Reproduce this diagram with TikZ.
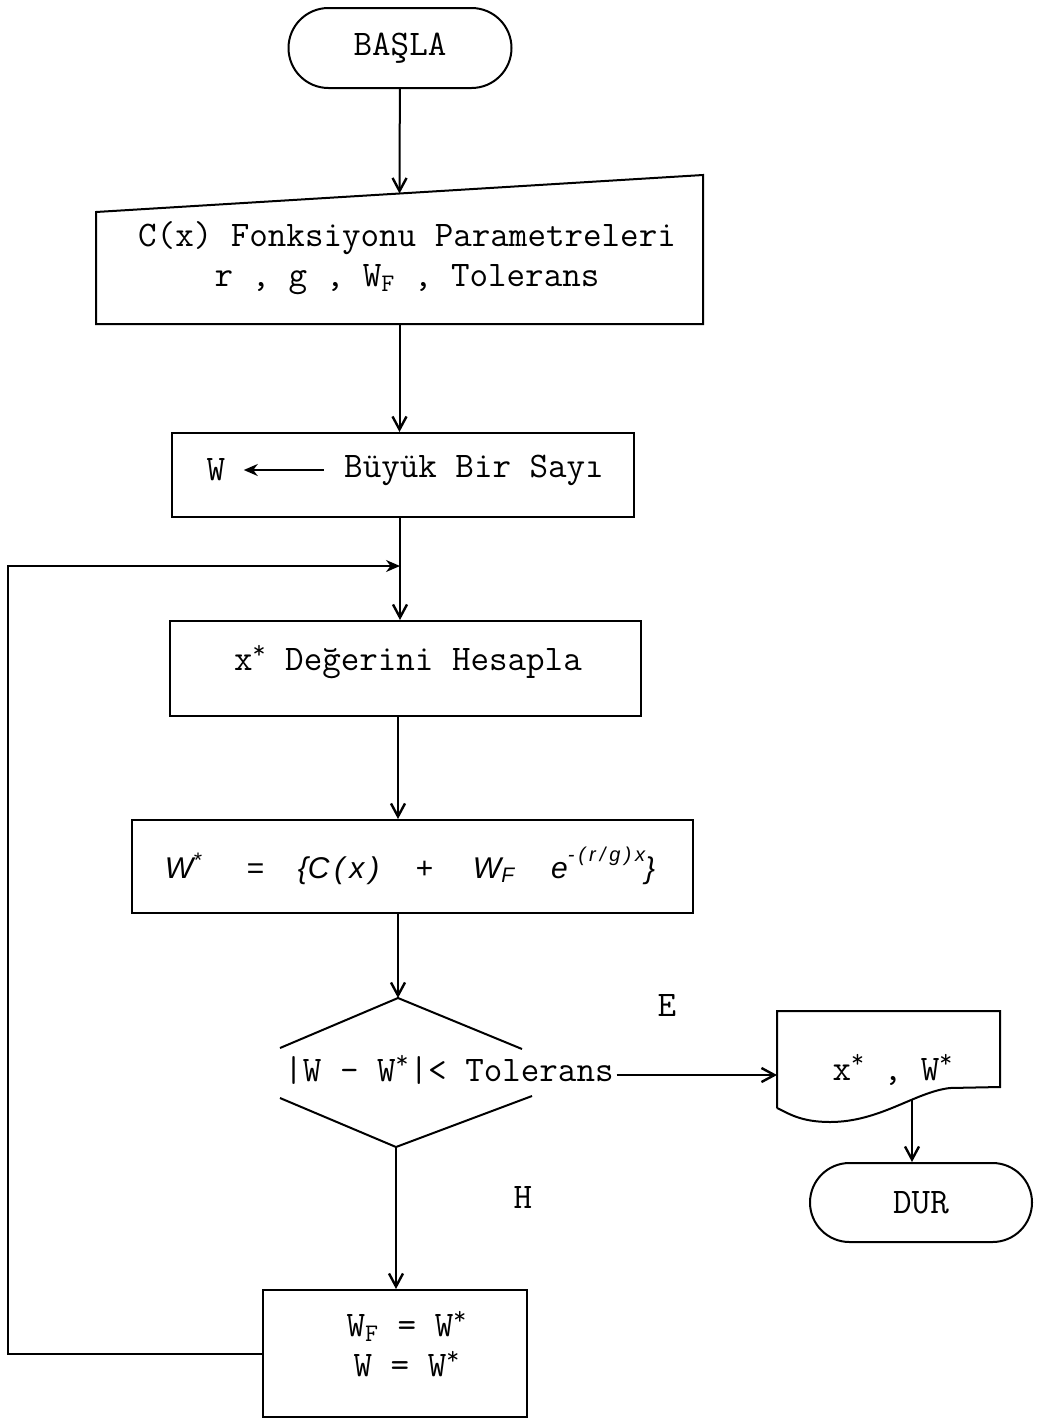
\documentclass[tikz,border=0pt]{standalone}
\usepackage{fontspec}
\setmainfont{Latin Modern Mono}
\newfontfamily\formfont{Liberation Sans}
\usetikzlibrary{arrows.meta,positioning,shapes.misc}

\begin{document}
\begin{tikzpicture}[x=0.5pt,y=-0.5pt,line width=1pt,
  font=\fontsize{18}{20}\selectfont,
  term/.style={draw,rounded rectangle,minimum width=111.5pt,minimum height=40pt,inner sep=0pt},
  proc/.style={draw,rectangle,inner sep=0pt},
  plain/.style={inner sep=1pt},
  flow/.style={-{Straight Barb[length=6.5pt,width=7pt,line width=1.2pt]}},
  back/.style={-{Stealth[length=7pt,width=6pt]}}]

  \useasboundingbox (0,0) rectangle (1042,1419);

  % start and input
  \node[term] (basla) at (400,48) {BAŞLA};

  \node[proc,draw=none,minimum width=302.5pt,minimum height=55pt] (inp) at (399.5,268) {};
  \node[plain,align=center] (inptext) at (407,258) {C(x) Fonksiyonu Parametreleri\\
    r , g , W\textsubscript{F} , Tolerans};
  \draw (inp.north west) -- (inp.south west) -- (inp.south east)
    -- ([yshift=18.5pt]inp.north east) -- cycle;
  \coordinate (inptop) at ([yshift=9.25pt]inp.north);

  % initial value
  \node[proc,minimum width=231pt,minimum height=42pt] (wbox) at (403,475) {};
  \node[plain] (wvar) at (216,470) {W};
  \node[plain] (big) at (474,470) {Büyük Bir Sayı};
  \draw[back] ([xshift=-8.85pt]big.west) -- ([xshift=7.75pt]wvar.east);

  \coordinate (join) at (400,566);
  \coordinate (lft) at (8,566);

  % computation boxes
  \node[proc,minimum width=235.5pt,minimum height=47.5pt] (xbox) at (405.5,668.5) {};
  \node[plain] (xtext) at (408,662) {x\textsuperscript{*} Değerini Hesapla};

  \node[proc,minimum width=280.5pt,minimum height=46.5pt] (fbox) at (412.5,866.5) {};
  \node[plain,font=\formfont\itshape\fontsize{15}{18}\selectfont] (ftext) at (410,866)
    {W\textsuperscript{*}\hspace{22pt}=\hspace{17pt}\{C\,(\,x\,)\hspace{18pt}+\hspace{20pt}W\textsubscript{F}\hspace{18pt}e\raisebox{0.55em}{\fontsize{10}{10}\selectfont
    -\hspace{2pt}(\hspace{2pt}r\hspace{2pt}/\hspace{2pt}g\hspace{2pt})\hspace{2pt}x}\}};

  % decision
  \coordinate (dtop) at (398,998);
  \coordinate (dbot) at (396,1147);
  \draw (280,1048) -- (dtop) -- (522,1049);
  \draw (280,1098) -- (dbot) -- (532,1096);
  \node[plain] (dec) at (449,1070) {|W - W\textsuperscript{*}|< Tolerans};
  \node[plain] (yes) at (667,1005) {E};
  \node[plain] (no) at (523,1197) {H};

  % output and stop
  \node[plain] (doctext) at (893,1070) {x\textsuperscript{*} , W\textsuperscript{*}};
  \draw (777,1108) -- (777,1011) -- (1000,1011) -- (1000,1087) -- (950,1088)
    .. controls (915,1092) and (880,1122) .. (830,1122)
    .. controls (800,1122) and (788,1113) .. (777,1108);
  \coordinate (docw) at (777,1077);
  \coordinate (docbot) at (912,1099);
  \node[term,minimum width=111pt,minimum height=39.5pt] (dur) at (921,1202.5) {DUR};

  % update
  \node[proc,minimum width=132pt,minimum height=63.5pt] (upd) at (395,1353.5) {};
  \node[plain,align=center] (updtext) at (407,1344) {W\textsubscript{F} = W\textsuperscript{*}\\
    W = W\textsuperscript{*}};

  % connectors
  \draw[flow] (basla) -- (inptop);
  \draw[flow] (inp.south) -- (inp.south |- wbox.north);
  \draw (join |- wbox.south) -- (join);
  \draw[flow] (join) -- (join |- xbox.north);
  \draw[flow] (dtop |- xbox.south) -- (dtop |- fbox.north);
  \draw[flow] (dtop |- fbox.south) -- (dtop);
  \draw[flow] ([yshift=-2.5pt]dec.east) -- ([yshift=-2.5pt]dec.east -| docw);
  \draw[flow] (docbot) -- (docbot |- dur.north);
  \draw[flow] (dbot) -- (dbot |- upd.north);
  \draw[back] (upd.west) -| (lft) -- (join);

\end{tikzpicture}
\end{document}
